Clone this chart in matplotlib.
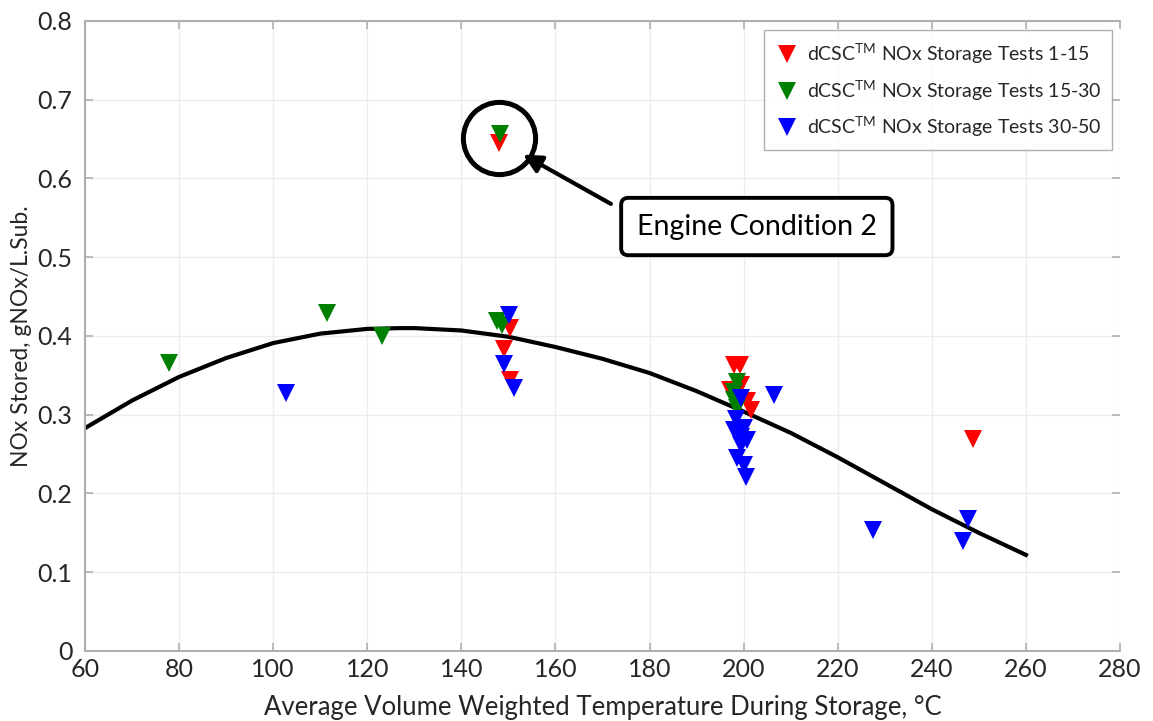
import numpy as np
import matplotlib.pyplot as plt

plt.rcParams['font.family'] = ['Lato', 'DejaVu Sans']
plt.rcParams['mathtext.fontset'] = 'custom'
plt.rcParams['mathtext.rm'] = 'Lato'

# NOx storage results, grouped by test batch
red_x = [147.9, 150.4, 149.1, 150.3, 197.9, 199.2, 197.2, 199.4, 200.8, 201.5, 248.7]
red_y = [0.645, 0.410, 0.383, 0.344, 0.363, 0.363, 0.331, 0.338, 0.317, 0.306, 0.269]

green_x = [77.9, 111.4, 123.1, 147.6, 148.7, 148.2, 198.6, 197.9, 197.9, 198.6]
green_y = [0.366, 0.429, 0.400, 0.419, 0.414, 0.657, 0.342, 0.329, 0.319, 0.308]

blue_x = [102.8, 150.1, 149.1, 151.1, 199.4, 198.3, 200.1, 197.9, 199.4, 199.4,
          200.8, 198.6, 200.1, 200.4, 206.4, 227.4, 247.7, 246.7]
blue_y = [0.328, 0.427, 0.365, 0.334, 0.321, 0.295, 0.283, 0.281, 0.272, 0.262,
          0.268, 0.245, 0.236, 0.221, 0.325, 0.154, 0.168, 0.140]

# trend line
fit_x = [60, 70, 80, 90, 100, 110, 120, 127, 130, 140, 150, 160, 170,
         180, 190, 200, 210, 220, 230, 240, 250, 260]
fit_y = [0.283, 0.318, 0.348, 0.372, 0.391, 0.403, 0.409, 0.410, 0.410, 0.407,
         0.399, 0.386, 0.371, 0.353, 0.330, 0.304, 0.277, 0.246, 0.213, 0.180,
         0.150, 0.122]

x_ticks = list(range(60, 281, 20))
y_ticks = [0, 0.1, 0.2, 0.3, 0.4, 0.5, 0.6, 0.7, 0.8]
y_ticklabels = ['0', '0.1', '0.2', '0.3', '0.4', '0.5', '0.6', '0.7', '0.8']

callout_xy = (148.0, 0.651)
callout_text = 'Engine Condition 2'
callout_text_xy = (202.8, 0.539)

fig = plt.figure(figsize=(11.53, 7.21), dpi=100)
ax = fig.add_axes([0.0737, 0.0971, 0.8977, 0.8738])

txt = '#262626'
ms = 12.5

ax.plot(fit_x, fit_y, color='black', lw=3, zorder=2)
ax.plot(red_x, red_y, 'v', color='red', ms=ms, mew=0, zorder=3,
        label=r'dCSC$^{\mathrm{TM}}$ NOx Storage Tests 1-15')
ax.plot(green_x, green_y, 'v', color='green', ms=ms, mew=0, zorder=3,
        label=r'dCSC$^{\mathrm{TM}}$ NOx Storage Tests 15-30')
ax.plot(blue_x, blue_y, 'v', color='blue', ms=ms, mew=0, zorder=4,
        label=r'dCSC$^{\mathrm{TM}}$ NOx Storage Tests 30-50')

# circle around the outlier pair plus the callout
ax.plot(*callout_xy, 'o', ms=52, mfc='none', mec='black', mew=3.6, zorder=5)
ax.annotate('', xy=(152.6, 0.632), xytext=(172.3, 0.566),
            arrowprops=dict(arrowstyle='-|>,head_length=1.1,head_width=0.55',
                            color='black', lw=3), zorder=5)
ax.text(*callout_text_xy, callout_text, ha='center', va='center',
        fontsize=20.5, color='black', zorder=6,
        bbox=dict(boxstyle='round,pad=0.55,rounding_size=0.25', fc='white',
                  ec='black', lw=2.8))

ax.set_xlim(60, 280)
ax.set_ylim(0, 0.8)
ax.set_xticks(x_ticks)
ax.set_yticks(y_ticks)
ax.set_yticklabels(y_ticklabels)
ax.grid(True, color='#ececec', lw=1)
ax.set_axisbelow(True)
ax.tick_params(direction='in', length=6, width=1.2, color='#b0b0b0',
               labelsize=18, labelcolor=txt, top=True, right=True)
ax.tick_params(axis='y', pad=9)
ax.tick_params(axis='x', pad=5)
for side in ['left', 'bottom', 'top']:
    ax.spines[side].set_color('#b0b0b0')
    ax.spines[side].set_linewidth(1.5)
ax.spines['right'].set_visible(False)

ax.set_xlabel('Average Volume Weighted Temperature During Storage, °C',
              fontsize=18.5, color=txt, labelpad=10)
ax.set_ylabel('NOx Stored, gNOx/L.Sub.', fontsize=16.5, color=txt, labelpad=4)

leg = ax.legend(loc='upper right', bbox_to_anchor=(0.9923, 0.9857), fontsize=14,
                frameon=True, fancybox=False, handletextpad=0.35,
                borderpad=0.55, labelspacing=0.62, handlelength=1.3,
                borderaxespad=0)
leg.get_frame().set_edgecolor('#9a9a9a')
leg.get_frame().set_linewidth(1)
for t in leg.get_texts():
    t.set_color(txt)

fig.savefig('out.png', dpi=100)
